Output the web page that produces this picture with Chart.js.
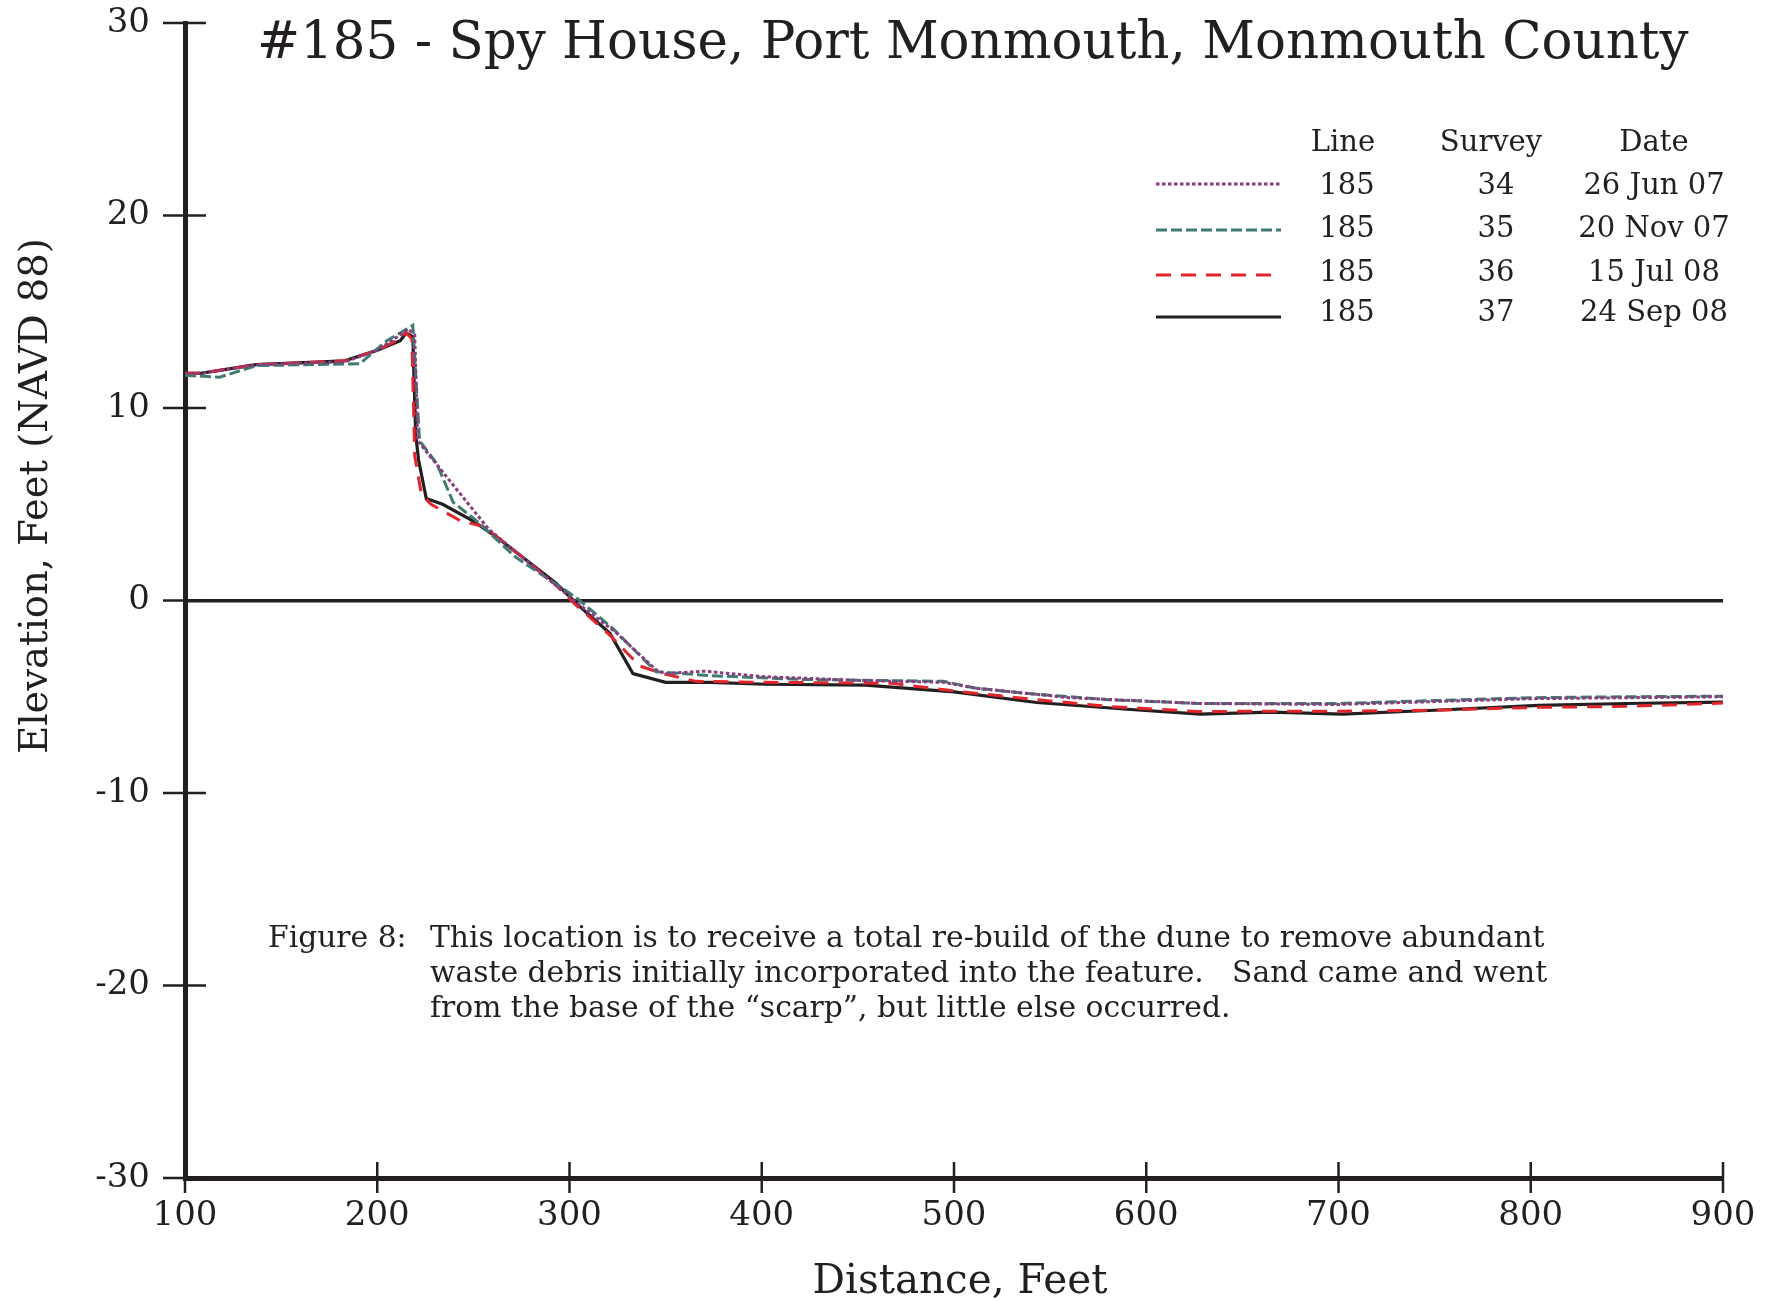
<!DOCTYPE html>
<html>
<head>
<meta charset="utf-8">
<title>#185 - Spy House, Port Monmouth, Monmouth County</title>
<script src="https://cdn.jsdelivr.net/npm/chart.js@4.4.1/dist/chart.umd.min.js"></script>
<style>
  html, body { margin: 0; padding: 0; background: #ffffff; }
  canvas { display: block; }
</style>
</head>
<body>
<canvas id="profile" width="1781" height="1301" style="width:1781px;height:1301px"></canvas>
<script>
// profile data (distance in feet, elevation in feet NAVD 88)
const jun07Dist = [100, 108, 137, 183, 200, 212, 216, 219.5, 221, 258, 303.5, 324, 345, 350, 370, 400, 450, 494.5, 511, 560, 627.5, 700, 750, 800, 850, 900];
const jun07Elev = [11.8, 11.8, 12.25, 12.4, 13.0, 13.8, 14.1, 13.8, 8.3, 3.7, -0.1, -1.65, -3.6, -3.8, -3.67, -3.95, -4.15, -4.25, -4.55, -5.05, -5.35, -5.4, -5.25, -5.1, -5.05, -5.0];

const nov07Dist = [100, 118, 137, 191, 205, 212, 218.5, 222, 231, 239.5, 251.5, 272, 303.5, 322.5, 345, 373, 420, 494.5, 511, 540, 580, 627.5, 700, 750, 800, 850, 900];
const nov07Elev = [11.7, 11.6, 12.2, 12.3, 13.5, 13.9, 14.3, 8.3, 7.1, 5.1, 4.15, 2.25, 0.15, -1.45, -3.7, -3.9, -4.1, -4.2, -4.55, -4.85, -5.15, -5.35, -5.35, -5.2, -5.05, -5.0, -4.97];

const jul08Dist = [100, 108, 137, 183, 200, 212, 215, 218, 219.5, 223, 228, 243, 255, 265, 293, 303.5, 321, 336.5, 348.5, 366, 402, 468, 500, 543, 580, 627, 657, 700, 750, 804, 850, 900];
const jul08Elev = [11.8, 11.8, 12.25, 12.45, 13.0, 13.6, 13.9, 13.6, 7.5, 5.5, 5.0, 4.15, 3.85, 3.1, 0.8, -0.25, -1.8, -3.4, -3.8, -4.2, -4.25, -4.3, -4.7, -5.15, -5.5, -5.77, -5.75, -5.75, -5.7, -5.55, -5.5, -5.33];

const sep08Dist = [100, 108, 137, 183, 200, 212, 215, 218.5, 220, 221.5, 225.5, 234, 249.5, 262, 275, 293, 303.5, 321, 333, 350, 373, 402, 454, 500, 543, 590, 628, 665, 702, 750, 804, 850, 900];
const sep08Elev = [11.8, 11.8, 12.25, 12.45, 13.0, 13.5, 13.9, 13.7, 8.6, 7.3, 5.3, 5.0, 4.15, 3.3, 2.3, 0.9, -0.15, -1.7, -3.8, -4.25, -4.25, -4.35, -4.4, -4.75, -5.3, -5.65, -5.9, -5.8, -5.9, -5.7, -5.45, -5.35, -5.28];

// legend table
const lineNumbers = ['185', '185', '185', '185'];
const surveyNumbers = ['34', '35', '36', '37'];
const surveyDates = ['26 Jun 07', '20 Nov 07', '15 Jul 08', '24 Sep 08'];

// axis ticks
const xTicks = [100, 200, 300, 400, 500, 600, 700, 800, 900];
const yTicks = [-30, -20, -10, 0, 10, 20, 30];

const titleText = '#185 - Spy House, Port Monmouth, Monmouth County';
const captionLines = [
  'This location is to receive a total re-build of the dune to remove abundant',
  'waste debris initially incorporated into the feature.   Sand came and went',
  'from the base of the \u201Cscarp\u201D, but little else occurred.'
];

const INK = '#231f20';
const SERIF = '"DejaVu Serif", "Liberation Serif", serif';

function toPoints(xs, ys) {
  return xs.map((x, i) => ({ x: x, y: ys[i] }));
}

// font size that makes the text as wide as asked
function fitFont(ctx, text, width, base) {
  ctx.font = base + 'px ' + SERIF;
  const w = ctx.measureText(text).width;
  return base * width / w;
}

const styleList = [
  { color: '#8d3b7f', dash: [3.5, 2.5], width: 3 },
  { color: '#3f7b70', dash: [11, 4], width: 3 },
  { color: '#e2252b', dash: [15, 10], width: 3 },
  { color: INK, dash: [], width: 3.2 }
];

const decorations = {
  id: 'decorations',
  afterDraw(chart) {
    const ctx = chart.ctx;
    const xs = chart.scales.x, ys = chart.scales.y;
    const area = chart.chartArea;
    ctx.save();

    // tick marks crossing the axes
    ctx.strokeStyle = INK;
    ctx.lineWidth = 2.5;
    ctx.setLineDash([]);
    yTicks.forEach(v => {
      const py = ys.getPixelForValue(v);
      ctx.beginPath();
      ctx.moveTo(area.left - 22, py);
      ctx.lineTo(area.left + 21, py);
      ctx.stroke();
    });
    xTicks.forEach(v => {
      const px = xs.getPixelForValue(v);
      ctx.beginPath();
      ctx.moveTo(px, area.bottom - 16);
      ctx.lineTo(px, area.bottom + 15);
      ctx.stroke();
    });

    ctx.fillStyle = INK;

    // title
    let size = fitFont(ctx, titleText, 1432, 48);
    ctx.font = size + 'px ' + SERIF;
    ctx.textAlign = 'left';
    ctx.textBaseline = 'alphabetic';
    ctx.fillText(titleText, 257, 58);

    // axis titles
    size = fitFont(ctx, 'Distance, Feet', 295, 38);
    ctx.font = size + 'px ' + SERIF;
    ctx.textAlign = 'center';
    ctx.fillText('Distance, Feet', 960, 1293);

    size = fitFont(ctx, 'Elevation, Feet (NAVD 88)', 516, 38);
    ctx.font = size + 'px ' + SERIF;
    ctx.save();
    ctx.translate(47, 496);
    ctx.rotate(-Math.PI / 2);
    ctx.fillText('Elevation, Feet (NAVD 88)', 0, 0);
    ctx.restore();

    // legend table
    ctx.font = '29px ' + SERIF;
    ctx.textAlign = 'center';
    ctx.textBaseline = 'middle';
    ctx.fillText('Line', 1343, 143);
    ctx.fillText('Survey', 1491, 143);
    ctx.fillText('Date', 1654, 143);
    const rowY = [186, 229, 273, 313];
    const sampleY = [184, 230, 275, 317];
    chart.data.datasets.forEach((ds, i) => {
      const st = styleList[i];
      ctx.strokeStyle = st.color;
      ctx.lineWidth = st.width;
      ctx.setLineDash(st.dash);
      ctx.beginPath();
      ctx.moveTo(1156, sampleY[i]);
      ctx.lineTo(1281, sampleY[i]);
      ctx.stroke();
      ctx.fillText(lineNumbers[i], 1347, rowY[i]);
      ctx.fillText(surveyNumbers[i], 1496, rowY[i]);
      ctx.fillText(surveyDates[i], 1654, rowY[i]);
    });
    ctx.setLineDash([]);

    // caption
    size = fitFont(ctx, captionLines[0], 1115, 28);
    ctx.font = size + 'px ' + SERIF;
    ctx.textAlign = 'left';
    ctx.textBaseline = 'alphabetic';
    ctx.fillText('Figure 8:', 268, 947);
    captionLines.forEach((t, i) => ctx.fillText(t, 430, 947 + i * 35));

    ctx.restore();
  }
};

const chartArea = document.getElementById('profile').getContext('2d');

const profileChart = new Chart(chartArea, {
  type: 'line',
  data: {
    datasets: [
      { label: '26 Jun 07', data: toPoints(jun07Dist, jun07Elev) },
      { label: '20 Nov 07', data: toPoints(nov07Dist, nov07Elev) },
      { label: '15 Jul 08', data: toPoints(jul08Dist, jul08Elev) },
      { label: '24 Sep 08', data: toPoints(sep08Dist, sep08Elev) }
    ].map((ds, i) => Object.assign(ds, {
      borderColor: styleList[i].color,
      borderWidth: styleList[i].width,
      borderDash: styleList[i].dash,
      pointRadius: 0,
      tension: 0,
      fill: false
    }))
  },
  options: {
    responsive: false,
    animation: false,
    devicePixelRatio: 1,
    layout: { padding: { top: 23, right: 58, left: 0, bottom: 0 } },
    plugins: {
      legend: { display: false },
      tooltip: { enabled: false },
      title: { display: false }
    },
    scales: {
      x: {
        type: 'linear',
        min: 100,
        max: 900,
        afterBuildTicks: s => { s.ticks = xTicks.map(v => ({ value: v })); },
        afterFit: s => { s.height = 123; },
        ticks: {
          autoSkip: false,
          maxRotation: 0,
          padding: 18,
          color: INK,
          font: { family: SERIF, size: 34 }
        },
        grid: { drawOnChartArea: false, drawTicks: false },
        border: { display: true, color: INK, width: 5 }
      },
      y: {
        type: 'linear',
        min: -30,
        max: 30,
        afterBuildTicks: s => { s.ticks = yTicks.map(v => ({ value: v })); },
        afterFit: s => { s.width = 185; },
        ticks: {
          autoSkip: false,
          padding: 0,
          color: INK,
          font: { family: SERIF, size: 34 }
        },
        grid: {
          drawTicks: true,
          tickLength: 35,
          tickColor: 'rgba(0,0,0,0)',
          color: c => (c.tick && c.tick.value === 0 ? INK : 'rgba(0,0,0,0)'),
          lineWidth: c => (c.tick && c.tick.value === 0 ? 3.5 : 0)
        },
        border: { display: true, color: INK, width: 5 }
      }
    }
  },
  plugins: [decorations]
});
</script>
</body>
</html>
